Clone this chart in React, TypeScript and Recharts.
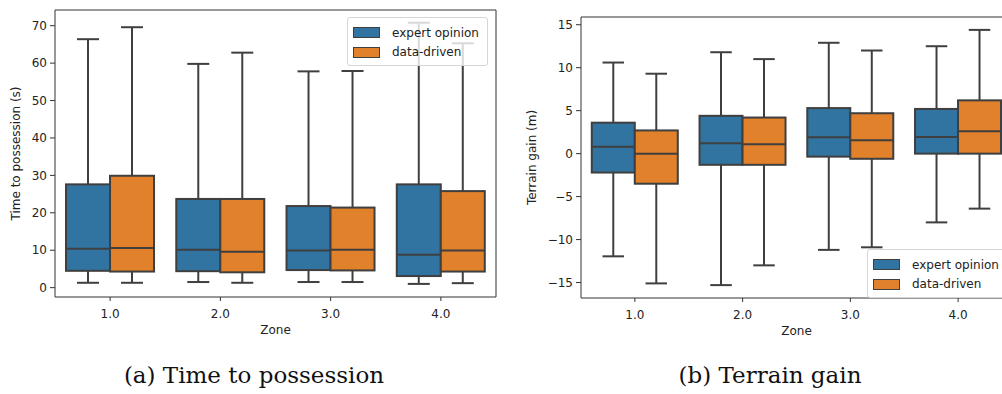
import React from "react";
import { ComposedChart, Bar, XAxis, YAxis } from "recharts";

const zones = ["1.0", "2.0", "3.0", "4.0"];
const seriesNames = ["expert opinion", "data-driven"];
const seriesColors = ["#3274a1", "#e1812c"];

// per zone: [whisker low, Q1, median, Q3, whisker high]
const timeExpert = [
  [1.3, 4.5, 10.4, 27.6, 66.4],
  [1.5, 4.4, 10.1, 23.7, 59.8],
  [1.5, 4.7, 9.9, 21.8, 57.8],
  [1.0, 3.1, 8.8, 27.6, 70.8],
];
const timeData = [
  [1.3, 4.3, 10.6, 29.9, 69.6],
  [1.3, 4.1, 9.6, 23.7, 62.8],
  [1.5, 4.6, 10.1, 21.4, 57.9],
  [1.2, 4.3, 9.9, 25.8, 65.3],
];
const gainExpert = [
  [-11.95, -2.2, 0.8, 3.6, 10.6],
  [-15.3, -1.3, 1.2, 4.4, 11.8],
  [-11.2, -0.35, 1.9, 5.3, 12.9],
  [-8.0, 0, 1.95, 5.2, 12.5],
];
const gainData = [
  [-15.1, -3.5, 0, 2.7, 9.3],
  [-13.0, -1.3, 1.1, 4.2, 11.0],
  [-10.9, -0.6, 1.55, 4.7, 12.0],
  [-6.4, 0, 2.6, 6.2, 14.4],
];

const timeTicks = [0, 10, 20, 30, 40, 50, 60, 70];
const gainTicks = [-15, -10, -5, 0, 5, 10, 15];

const LINE = "#3f3f3f";
const AXIS = "#333";
const TXT = "#222";

const buildRows = (a: number[][], b: number[][]) =>
  zones.map((zone, i) => ({
    zone,
    expert: [a[i][1], a[i][3]],
    data: [b[i][1], b[i][3]],
    expertStats: a[i],
    dataStats: b[i],
  }));

function BoxShape(props: any) {
  const { x, y, width, height, fill, payload, statsKey } = props;
  const [lo, q1, med, q3, hi] = payload[statsKey];
  const k = height / (q3 - q1);
  const py = (v: number) => y + (q3 - v) * k;
  const cx = x + width / 2;
  const cap = width / 4;
  return (
    <g stroke={LINE} strokeWidth={2}>
      <line x1={cx} x2={cx} y1={py(q3)} y2={py(hi)} />
      <line x1={cx} x2={cx} y1={py(q1)} y2={py(lo)} />
      <line x1={cx - cap} x2={cx + cap} y1={py(hi)} y2={py(hi)} />
      <line x1={cx - cap} x2={cx + cap} y1={py(lo)} y2={py(lo)} />
      <rect x={x} y={y} width={width} height={height} fill={fill} />
      <line x1={x} x2={x + width} y1={py(med)} y2={py(med)} />
    </g>
  );
}

const minus = (v: number) => String(v).replace("-", "\u2212");

function LegendBox({ style }: { style: React.CSSProperties }) {
  return (
    <div
      style={{
        position: "absolute",
        background: "rgba(255,255,255,0.8)",
        border: "1px solid #d6d6d6",
        borderRadius: 3,
        padding: "5px 8px 3px 5px",
        fontFamily: "DejaVu Sans",
        fontSize: 12,
        color: TXT,
        ...style,
      }}
    >
      {seriesNames.map((n, i) => (
        <div key={n} style={{ display: "flex", alignItems: "center", height: 19.5 }}>
          <span
            style={{
              display: "inline-block",
              width: 25,
              height: 9,
              background: seriesColors[i],
              border: `1px solid ${LINE}`,
              marginRight: 12,
            }}
          />
          {n}
        </div>
      ))}
    </div>
  );
}

function Panel(props: {
  rows: any[];
  width: number;
  height: number;
  margin: any;
  yWidth: number;
  domain: number[];
  ticks: number[];
  yLabel: string;
  yLabelOffset: number;
}) {
  const { rows, width, height, margin, yWidth, domain, ticks, yLabel, yLabelOffset } = props;
  return (
    <ComposedChart
      width={width}
      height={height}
      data={rows}
      margin={margin}
      barCategoryGap="10%"
      barGap={0}
      style={{ fontFamily: "DejaVu Sans" }}
    >
      <XAxis
        dataKey="zone"
        height={48}
        stroke={AXIS}
        tickSize={4}
        tickMargin={8}
        tick={{ fontSize: 12, fill: TXT }}
        label={{ value: "Zone", position: "insideBottom", offset: 11, fontSize: 12, fill: TXT }}
      />
      <XAxis xAxisId="top" dataKey="zone" orientation="top" height={1} stroke={AXIS} tick={false} tickLine={false} />
      <YAxis
        width={yWidth}
        domain={domain}
        ticks={ticks}
        type="number"
        allowDataOverflow
        stroke={AXIS}
        tickSize={5}
        tickMargin={3}
        tickFormatter={minus}
        tick={{ fontSize: 12, fill: TXT }}
        label={{
          value: yLabel,
          angle: -90,
          position: "insideLeft",
          offset: yLabelOffset,
          fontSize: 12,
          fill: TXT,
          style: { textAnchor: "middle" },
        }}
      />
      <YAxis yAxisId="r" orientation="right" width={1} stroke={AXIS} tick={false} tickLine={false} />
      <Bar
        dataKey="expert"
        name={seriesNames[0]}
        fill={seriesColors[0]}
        isAnimationActive={false}
        shape={(p: any) => <BoxShape {...p} statsKey="expertStats" />}
      />
      <Bar
        dataKey="data"
        name={seriesNames[1]}
        fill={seriesColors[1]}
        isAnimationActive={false}
        shape={(p: any) => <BoxShape {...p} statsKey="dataStats" />}
      />
    </ComposedChart>
  );
}

export default function App() {
  const captionStyle: React.CSSProperties = {
    position: "absolute",
    top: 362,
    fontFamily: "DejaVu Serif",
    fontSize: 23,
    color: "#111",
    whiteSpace: "nowrap",
    transform: "translateX(-50%)",
  };
  return (
    <div
      style={{
        position: "fixed",
        left: 0,
        top: 0,
        width: 1002,
        height: 394,
        overflow: "hidden",
        background: "#fff",
      }}
    >
      <div style={{ position: "absolute", left: 0, top: 0 }}>
        <Panel
          rows={buildRows(timeExpert, timeData)}
          width={500}
          height={345}
          margin={{ top: 9, right: 3, left: 0, bottom: 0 }}
          yWidth={55}
          domain={[-2.5, 74.2]}
          ticks={timeTicks}
          yLabel="Time to possession (s)"
          yLabelOffset={16}
        />
        <LegendBox style={{ left: 347, top: 17 }} />
      </div>
      <div style={{ position: "absolute", left: 500, top: 0 }}>
        <Panel
          rows={buildRows(gainExpert, gainData)}
          width={513}
          height={346}
          margin={{ top: 16, right: 0, left: 0, bottom: 0 }}
          yWidth={81}
          domain={[-16.8, 15.9]}
          ticks={gainTicks}
          yLabel="Terrain gain (m)"
          yLabelOffset={32}
        />
        <LegendBox style={{ left: 367, top: 249, width: 160 }} />
      </div>
      <div style={{ ...captionStyle, left: 254 }}>(a) Time to possession</div>
      <div style={{ ...captionStyle, left: 770 }}>(b) Terrain gain</div>
    </div>
  );
}
